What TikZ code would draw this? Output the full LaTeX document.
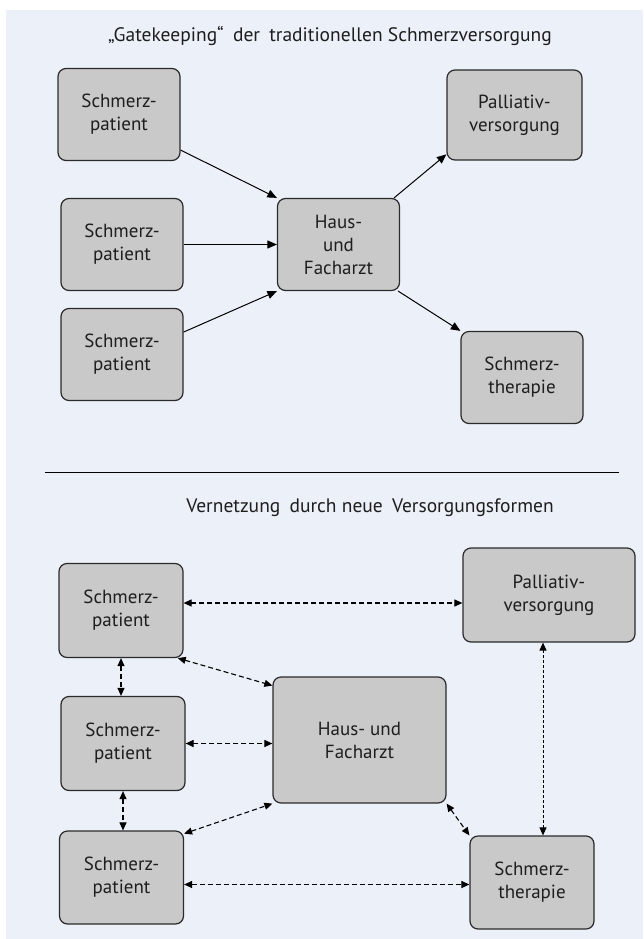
\documentclass[tikz,border=0pt]{standalone}
\usepackage{fontspec}
\setmainfont{PT Sans}
\usepackage{tikz}
\usetikzlibrary{arrows.meta}
\definecolor{bgblue}{HTML}{ECF0F9}
\definecolor{boxgray}{HTML}{C8C9C8}
\definecolor{boxline}{HTML}{2A2A2A}
\definecolor{textdark}{HTML}{1E1E1E}
\tikzstyle{box} = [rectangle, rounded corners=8pt, minimum width=122pt, minimum height=92pt, align=center, inner sep=2pt, draw=boxline, line width=1.2pt, fill=boxgray, text=textdark, font=\fontsize{19}{23}\selectfont]
\tikzstyle{smallbox} = [box, minimum width=124pt, minimum height=94pt]
\tikzstyle{heading} = [text=textdark, font=\fontsize{19.5}{23}\selectfont]
\tikzstyle{arrow} = [line width=1pt, -{Triangle[length=9.5pt,width=8pt]}]
\tikzstyle{dblarrow} = [line width=1.1pt, dash pattern=on 5pt off 3pt, {Triangle[length=8pt,width=7pt]}-{Triangle[length=8pt,width=7pt]}]
\tikzstyle{dotarrow} = [dblarrow, line width=1pt, dash pattern=on 3pt off 2pt]

\begin{document}
\begin{tikzpicture}[x=1pt, y=-1pt, node distance=130pt]
	\fill[white] (0,0) rectangle (643,939);
	\fill[bgblue] (6,10) rectangle (643,939);
	\useasboundingbox (0,0) rectangle (643,939);

	% traditionelle Versorgung
	\node(title_old) [heading] at (330,36) {„Gatekeeping“\hspace{4pt} der\hspace{4pt} traditionellen Schmerzversorgung};
	\node(sp1) [box] at (119,114.5) {Schmerz-\\patient};
	\node(sp2) [box, below of=sp1, xshift=3pt] {Schmerz-\\patient};
	\node(sp3) [box, below of=sp2, yshift=20pt] {Schmerz-\\patient};
	\node(hf) [box, right of=sp2, xshift=86.5pt] {Haus-\\und\\Facharzt};
	\node(pv) [box, right of=hf, xshift=46pt, yshift=129.5pt, minimum width=135pt, minimum height=90pt] {Palliativ-\\versorgung};
	\node(st) [box, right of=hf, xshift=53.5pt, yshift=-133pt] {Schmerz-\\therapie};

	\draw[arrow] (sp1.-30) -- (hf.north west);
	\draw[arrow] (sp2.east) -- (hf.west);
	\draw[arrow] (sp3.20) -- (hf.south west);
	\draw[arrow] (hf.40) -- (pv.-150);
	\draw[arrow] (hf.-38) -- (st.north west);

	\draw[line width=1pt] (45,472) -- (619,472);

	% neue Versorgungsformen
	\node(title_new) [heading] at (370,508) {Vernetzung\hspace{4pt} durch neue\hspace{4pt} Versorgungsformen};
	\node(bsp1) [smallbox] at (121,610.5) {Schmerz-\\patient};
	\node(bsp2) [smallbox, below of=bsp1, xshift=2pt, yshift=-3pt] {Schmerz-\\patient};
	\node(bsp3) [smallbox, below of=bsp2, xshift=-1.5pt, yshift=-4pt, minimum height=93pt] {Schmerz-\\patient};
	\node(bhf) [box, right of=bsp2, xshift=106.5pt, yshift=3.5pt, minimum width=173pt, minimum height=126pt] {Haus- und\\Facharzt};
	\node(bpv) [box, right of=bhf, xshift=59.5pt, yshift=145pt, minimum width=172pt, minimum height=94pt] {Palliativ-\\versorgung};
	\node(bst) [box, right of=bhf, xshift=42.5pt, yshift=-142.5pt, minimum width=124pt, minimum height=93pt] {Schmerz-\\therapie};

	\draw[dblarrow] ([yshift=7.5pt]bsp1.east) -- ([yshift=-8pt]bpv.west);
	\draw[dblarrow] (bsp1.south) -- (bsp1.south |- bsp2.north);
	\draw[dblarrow] (bsp2.south) -- (bsp2.south |- bsp3.north);
	\draw[dblarrow] (bsp1.-40) -- (bhf.148);
	\draw[dblarrow] (bsp2.east) -- (bsp2.east -| bhf.west);
	\draw[dblarrow] (bsp3.35) -- (bhf.south west);
	\draw[dblarrow] ([yshift=-7pt]bsp3.east) -- ([yshift=-7pt]bsp3.east -| bst.west);
	\draw[dblarrow] (bhf.south east) -- (bst.north west);
	\draw[dotarrow] ([xshift=11pt]bst.north |- bpv.south) -- ([xshift=11pt]bst.north);
\end{tikzpicture}
\end{document}
